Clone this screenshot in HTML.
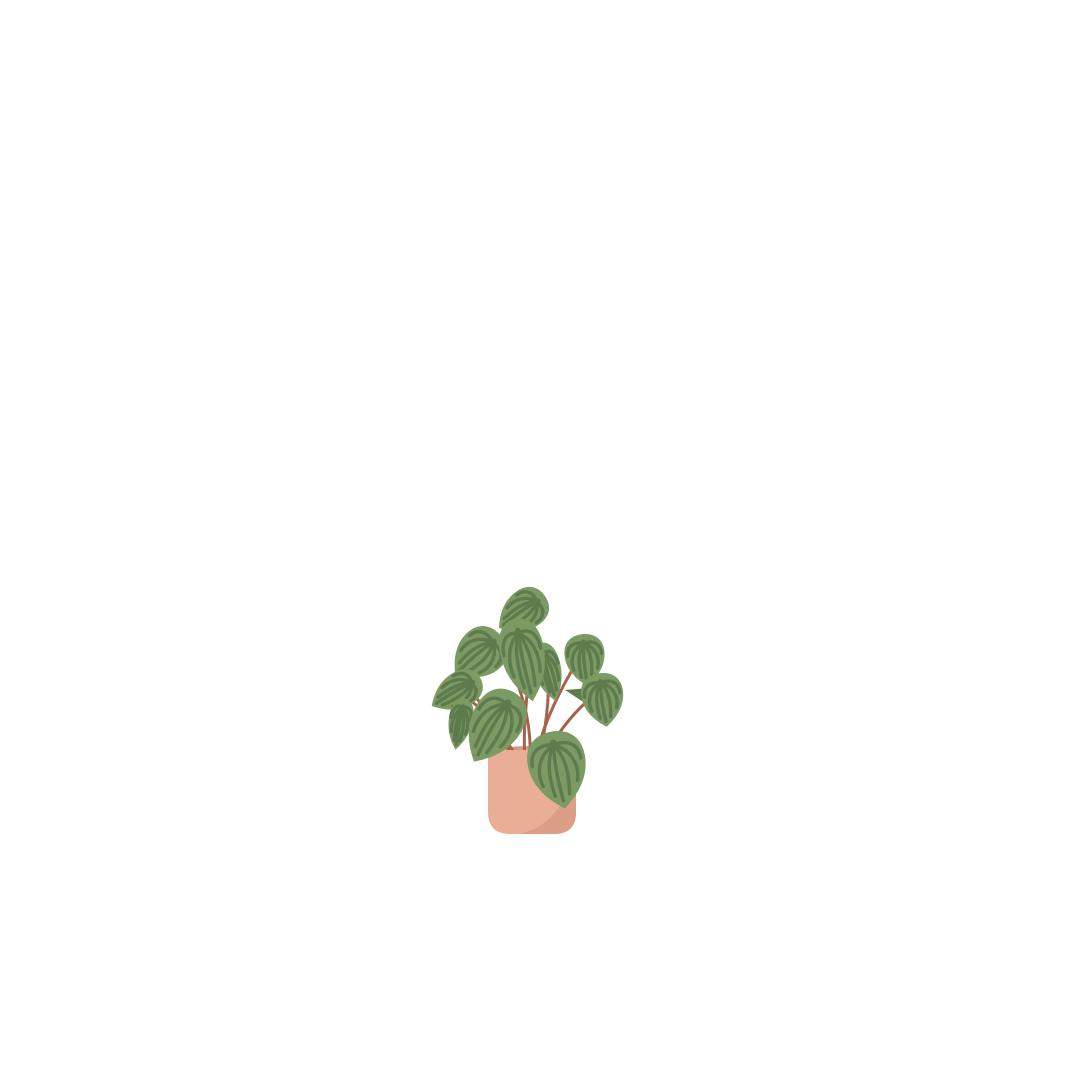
<!DOCTYPE html>
<html><head><meta charset="utf-8"><style>html,body{margin:0;padding:0;background:#fff}svg{display:block}</style></head>
<body>
<svg width="1080" height="1080" viewBox="0 0 1080 1080" xmlns="http://www.w3.org/2000/svg">
<defs>
<g id="leaf">
<path d="M0,1 C-0.45,0.75 -1,0.35 -1,-0.25 C-1,-0.8 -0.5,-1 0,-1 C0.5,-1 1,-0.8 1,-0.25 C1,0.35 0.45,0.75 0,1Z" fill="#7b9a64"/>
<g fill="none" stroke="#5f7a4c" stroke-width="3.4" stroke-linecap="round">
<path d="M0,-0.65 C-0.1,-0.1 -0.05,0.4 0,0.8" vector-effect="non-scaling-stroke"/>
<path d="M0,-0.65 C-0.35,-0.3 -0.35,0.2 -0.25,0.65" vector-effect="non-scaling-stroke"/>
<path d="M0,-0.65 C0.35,-0.3 0.35,0.2 0.25,0.65" vector-effect="non-scaling-stroke"/>
<path d="M0,-0.65 C-0.6,-0.45 -0.75,0 -0.6,0.35" vector-effect="non-scaling-stroke"/>
<path d="M0,-0.65 C0.6,-0.45 0.75,0 0.6,0.35" vector-effect="non-scaling-stroke"/>
<path d="M0,-0.65 C-0.6,-0.75 -0.85,-0.5 -0.85,-0.2" vector-effect="non-scaling-stroke"/>
<path d="M0,-0.65 C0.6,-0.75 0.85,-0.5 0.85,-0.2" vector-effect="non-scaling-stroke"/>
</g>
<circle cx="0" cy="-0.65" r="0.14" fill="#5f7a4c"/>
</g>
</defs>
<ellipse cx="532" cy="752" rx="44" ry="6" fill="#d99a80"/>
<g stroke="#a5634a" stroke-width="3" fill="none" stroke-linecap="round">
<path d="M525,760 C522,720 530,690 528,650"/>
<path d="M530,760 C532,720 520,680 500,650"/>
<path d="M516,760 C500,730 480,700 465,685"/>
<path d="M520,760 C505,740 495,725 490,720"/>
<path d="M536,755 C545,720 560,690 578,660"/>
<path d="M545,755 C560,730 575,710 595,695"/>
<path d="M540,755 C545,730 550,700 548,670"/>
<path d="M510,755 C505,740 495,720 470,700"/>
</g>
<path d="M488,750 H576 V812 Q576,834 554,834 H510 Q488,834 488,812 Z" fill="#e9ae94"/>
<path d="M576,770 V812 Q576,834 554,834 H520 Q560,825 576,770Z" fill="#dc9f86"/>
<use href="#leaf" transform="translate(522,612) rotate(55) scale(20,28)"/>
<use href="#leaf" transform="translate(548,672) rotate(-15) scale(14,30)"/>
<use href="#leaf" transform="translate(478,655) rotate(50) scale(24,30)"/>
<use href="#leaf" transform="translate(456,692) rotate(60) scale(18,28)"/>
<use href="#leaf" transform="translate(460,724) rotate(10) scale(12,26)"/>
<use href="#leaf" transform="translate(524,660) rotate(-12) scale(22,42)"/>
<use href="#leaf" transform="translate(585,660) rotate(-5) scale(20,26)"/>
<path d="M565,690 L590,688 L588,705 Z" fill="#5f7a4c"/>
<use href="#leaf" transform="translate(603,700) rotate(-8) scale(21,27)"/>
<use href="#leaf" transform="translate(494,727) rotate(30) scale(26,40)"/>
<use href="#leaf" transform="translate(558,770) rotate(-10) scale(29,39)"/>
</svg>
</body></html>
